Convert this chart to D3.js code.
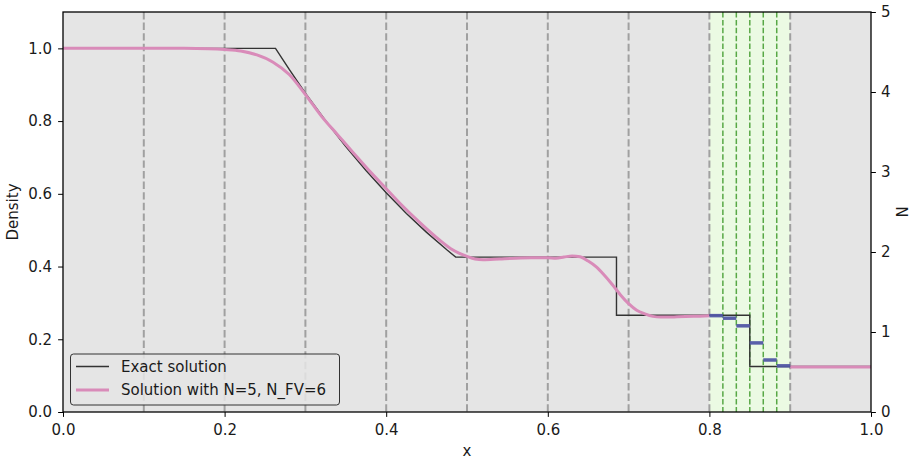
<!DOCTYPE html>
<html>
<head>
<meta charset="utf-8">
<script src="https://cdn.jsdelivr.net/npm/d3@7"></script>
<style>
  html, body { margin: 0; padding: 0; background: #ffffff; }
  svg { display: block; font-family: "DejaVu Sans", sans-serif; }
</style>
</head>
<body>
<svg id="chart" width="913" height="459"></svg>
<script>
// Exact Riemann solution (density) for the shock tube
const exactX   = [0.0, 0.263, 0.28, 0.30, 0.325, 0.35, 0.375, 0.40, 0.425, 0.45, 0.475, 0.486, 0.685, 0.685, 0.850, 0.850, 1.0];
const exactRho = [1.0, 1.0, 0.942, 0.877, 0.801, 0.730, 0.664, 0.603, 0.546, 0.494, 0.446, 0.426, 0.426, 0.266, 0.266, 0.125, 0.125];

// High-order (N=5) solution, left of the FV sub-cell region
const dgLeftX   = [0.0, 0.10, 0.15, 0.18, 0.20, 0.22, 0.24, 0.26, 0.28, 0.30, 0.32, 0.34, 0.36, 0.38, 0.40, 0.42, 0.44, 0.46, 0.48, 0.49, 0.50, 0.51, 0.52, 0.54, 0.56, 0.58, 0.60, 0.61, 0.62, 0.63, 0.64, 0.65, 0.66, 0.67, 0.68, 0.69, 0.70, 0.71, 0.72, 0.73, 0.74, 0.75, 0.76, 0.78, 0.80];
const dgLeftRho = [1.0, 1.0, 1.0, 0.999, 0.997, 0.993, 0.982, 0.962, 0.928, 0.873, 0.813, 0.762, 0.711, 0.661, 0.614, 0.567, 0.524, 0.484, 0.449, 0.437, 0.428, 0.421, 0.419, 0.421, 0.423, 0.424, 0.424, 0.423, 0.426, 0.429, 0.427, 0.415, 0.399, 0.376, 0.350, 0.322, 0.298, 0.280, 0.270, 0.263, 0.261, 0.261, 0.262, 0.263, 0.265];

// High-order solution, right of the FV sub-cell region
const dgRightX   = [0.90, 1.0];
const dgRightRho = [0.124, 0.124];

// Finite-volume sub-cells (N_FV = 6) inside the troubled element [0.8, 0.9]
const fvEdges = [0.8, 0.81667, 0.83333, 0.85, 0.86667, 0.88333, 0.9];
const fvRho   = [0.265, 0.258, 0.237, 0.190, 0.143, 0.127];

// Element boundaries
const elementEdges = [0.1, 0.2, 0.3, 0.4, 0.5, 0.6, 0.7, 0.8, 0.9];
const troubledElement = [0.8, 0.9];

const xTicks = [0.0, 0.2, 0.4, 0.6, 0.8, 1.0];
const yTicks = [0.0, 0.2, 0.4, 0.6, 0.8, 1.0];
const nTicks = [0, 1, 2, 3, 4, 5];

const legendLabels = ["Exact solution", "Solution with N=5, N_FV=6"];

const svg = d3.select("#chart");
const margin = { left: 63, right: 42, top: 12, bottom: 47 };
const W = 913, H = 459;
const x0 = margin.left, x1 = W - margin.right;
const y0 = H - margin.bottom, y1 = margin.top;

const x = d3.scaleLinear().domain([0, 1]).range([x0, x1]);
const y = d3.scaleLinear().domain([0, 1.1]).range([y0, y1]);
const yN = d3.scaleLinear().domain([0, 5]).range([y0, y1]);

const pinkColor = "#d98bb9";
const exactColor = "#333333";
const fvColor = "#5257a6";

// plot background
svg.append("rect").attr("x", x0).attr("y", y1)
  .attr("width", x1 - x0).attr("height", y0 - y1).attr("fill", "#e5e5e5");

svg.append("clipPath").attr("id", "plotclip")
  .append("rect").attr("x", x0).attr("y", y1).attr("width", x1 - x0).attr("height", y0 - y1);

const g = svg.append("g").attr("clip-path", "url(#plotclip)");

// troubled element shading
g.append("rect")
  .attr("x", x(troubledElement[0])).attr("y", y1)
  .attr("width", x(troubledElement[1]) - x(troubledElement[0]))
  .attr("height", y0 - y1)
  .attr("fill", "#ebfae3");

// sub-cell boundaries
g.selectAll("line.sub").data(fvEdges.slice(1, -1)).join("line")
  .attr("class", "sub")
  .attr("x1", d => x(d)).attr("x2", d => x(d))
  .attr("y1", y1).attr("y2", y0)
  .attr("stroke", "#58a846").attr("stroke-width", 1.5)
  .attr("stroke-dasharray", "5.5,2.4");

// element boundaries
g.selectAll("line.elem").data(elementEdges).join("line")
  .attr("class", "elem")
  .attr("x1", d => x(d)).attr("x2", d => x(d))
  .attr("y1", y1).attr("y2", y0)
  .attr("stroke", "#a0a0a0").attr("stroke-width", 2)
  .attr("stroke-dasharray", "7.4,3.2");

// exact solution
const exactLine = d3.line().x(d => x(d[0])).y(d => y(d[1]));
g.append("path")
  .attr("d", exactLine(d3.zip(exactX, exactRho)))
  .attr("fill", "none").attr("stroke", exactColor).attr("stroke-width", 1.4);

// high-order solution
const dgLine = d3.line().x(d => x(d[0])).y(d => y(d[1])).curve(d3.curveMonotoneX);
[d3.zip(dgLeftX, dgLeftRho), d3.zip(dgRightX, dgRightRho)].forEach(seg => {
  g.append("path")
    .attr("d", dgLine(seg))
    .attr("fill", "none").attr("stroke", pinkColor).attr("stroke-width", 3)
    .attr("stroke-linejoin", "round");
});

// finite-volume cell averages
g.selectAll("line.fv").data(fvRho).join("line")
  .attr("class", "fv")
  .attr("x1", (d, i) => x(fvEdges[i])).attr("x2", (d, i) => x(fvEdges[i + 1]))
  .attr("y1", d => y(d)).attr("y2", d => y(d))
  .attr("stroke", fvColor).attr("stroke-width", 3.5).attr("opacity", 0.95);

// axes
const fontSize = "15px";
const xAxis = svg.append("g").attr("transform", `translate(0,${y0})`)
  .call(d3.axisBottom(x).tickValues(xTicks).tickFormat(d3.format(".1f")).tickSize(4.9).tickPadding(7.5));
const yAxis = svg.append("g").attr("transform", `translate(${x0},0)`)
  .call(d3.axisLeft(y).tickValues(yTicks).tickFormat(d3.format(".1f")).tickSize(4.9).tickPadding(6));
const nAxis = svg.append("g").attr("transform", `translate(${x1},0)`)
  .call(d3.axisRight(yN).tickValues(nTicks).tickFormat(d3.format("d")).tickSize(4.9).tickPadding(5));

[xAxis, yAxis, nAxis].forEach(a => {
  a.select(".domain").remove();
  a.selectAll(".tick line").attr("stroke", "#000").attr("stroke-width", 1);
  a.selectAll(".tick text").attr("fill", "#1a1a1a").style("font-size", fontSize)
    .style("font-family", "'DejaVu Sans', sans-serif");
});

// frame
svg.append("rect").attr("x", x0).attr("y", y1)
  .attr("width", x1 - x0).attr("height", y0 - y1)
  .attr("fill", "none").attr("stroke", "#000").attr("stroke-width", 1.3);

// axis titles
svg.append("text").attr("x", (x0 + x1) / 2).attr("y", 456)
  .attr("text-anchor", "middle").style("font-size", fontSize).attr("fill", "#1a1a1a").text("x");
svg.append("text").attr("transform", `translate(18,${(y0 + y1) / 2}) rotate(-90)`)
  .attr("text-anchor", "middle").style("font-size", fontSize).attr("fill", "#1a1a1a").text("Density");
svg.append("text").attr("transform", `translate(908,${(y0 + y1) / 2}) rotate(-90)`)
  .attr("text-anchor", "middle").style("font-size", fontSize).attr("fill", "#1a1a1a").text("N");

// legend
const leg = svg.append("g").attr("transform", "translate(70.5,354)");
leg.append("rect").attr("width", 269).attr("height", 51).attr("rx", 3).attr("ry", 3)
  .attr("fill", "#e5e5e5").attr("fill-opacity", 0.85).attr("stroke", "#333").attr("stroke-width", 1);
const legStyles = [{ c: exactColor, w: 1.4 }, { c: pinkColor, w: 3 }];
legendLabels.forEach((lab, i) => {
  const yy = 12.5 + i * 23.5;
  leg.append("line").attr("x1", 5.5).attr("x2", 38.5).attr("y1", yy).attr("y2", yy)
    .attr("stroke", legStyles[i].c).attr("stroke-width", legStyles[i].w);
  leg.append("text").attr("x", 50.5).attr("y", yy + 5.4)
    .style("font-size", fontSize).attr("fill", "#1a1a1a").text(lab);
});
</script>
</body>
</html>
